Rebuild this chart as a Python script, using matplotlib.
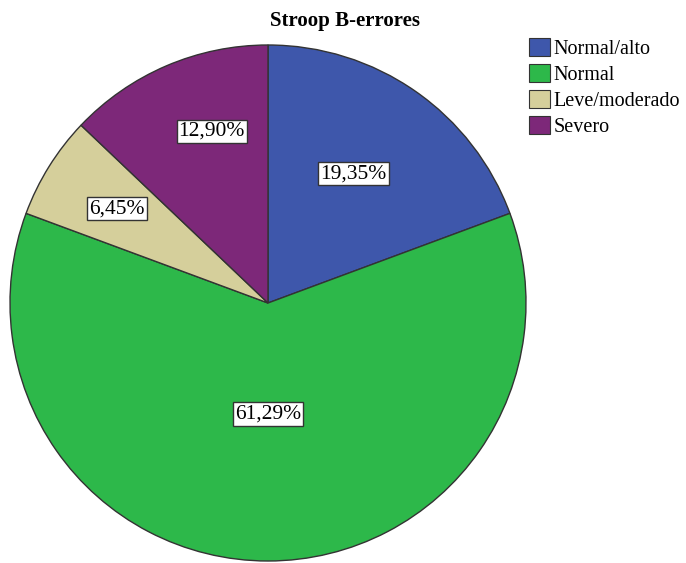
import matplotlib
matplotlib.use("Agg")
import matplotlib.pyplot as plt
from matplotlib.patches import Patch
import numpy as np

plt.rcParams['font.family'] = ['Liberation Serif', 'DejaVu Serif']

categories = ["Normal/alto", "Normal", "Leve/moderado", "Severo"]
percentages = [19.35, 61.29, 6.45, 12.90]
colors = ["#3E57AB", "#2DB84A", "#D5CF9B", "#7D2879"]
# label placement inside each wedge: (radius fraction, position along the wedge arc)
label_radius = [0.60, 0.43, 0.69, 0.70]
label_arc = [0.52, 0.50, 0.50, 0.39]

W, H = 686, 563
fig = plt.figure(figsize=(W / 100, H / 100), dpi=100)
cx, cy, r = 268, 303, 258
ax = fig.add_axes([(cx - r) / W, (H - cy - r) / H, 2 * r / W, 2 * r / H])

wedges, _ = ax.pie(percentages, colors=colors, startangle=90, counterclock=False,
                   radius=1, center=(0, 0), frame=False,
                   wedgeprops=dict(edgecolor="#333333", linewidth=1.0))
ax.set_xlim(-1, 1)
ax.set_ylim(-1, 1)
ax.axis("off")

for w, p, lr, fa in zip(wedges, percentages, label_radius, label_arc):
    ang = np.deg2rad(w.theta1 + fa * (w.theta2 - w.theta1))
    x, y = lr * np.cos(ang), lr * np.sin(ang)
    ax.text(x, y, f"{p:.2f}%".replace(".", ","), ha="center", va="center",
            fontsize=15.5,
            bbox=dict(boxstyle="square,pad=0.1", facecolor="white",
                      edgecolor="#333333", linewidth=1.0))

fig.text(345 / W, 1 - 21 / H, "Stroop B-errores", ha="center", va="center",
         fontsize=15, fontweight="bold")

handles = [Patch(facecolor=c, edgecolor="#333333", linewidth=0.8) for c in colors]
fig.legend(handles, categories, loc="upper left", bbox_to_anchor=(529 / W, 1 - 38 / H),
           frameon=False, fontsize=14.5, handlelength=1.05, handleheight=1.0,
           handletextpad=0.15, labelspacing=0.25, borderpad=0, borderaxespad=0)

fig.savefig("out.png", dpi=100)
